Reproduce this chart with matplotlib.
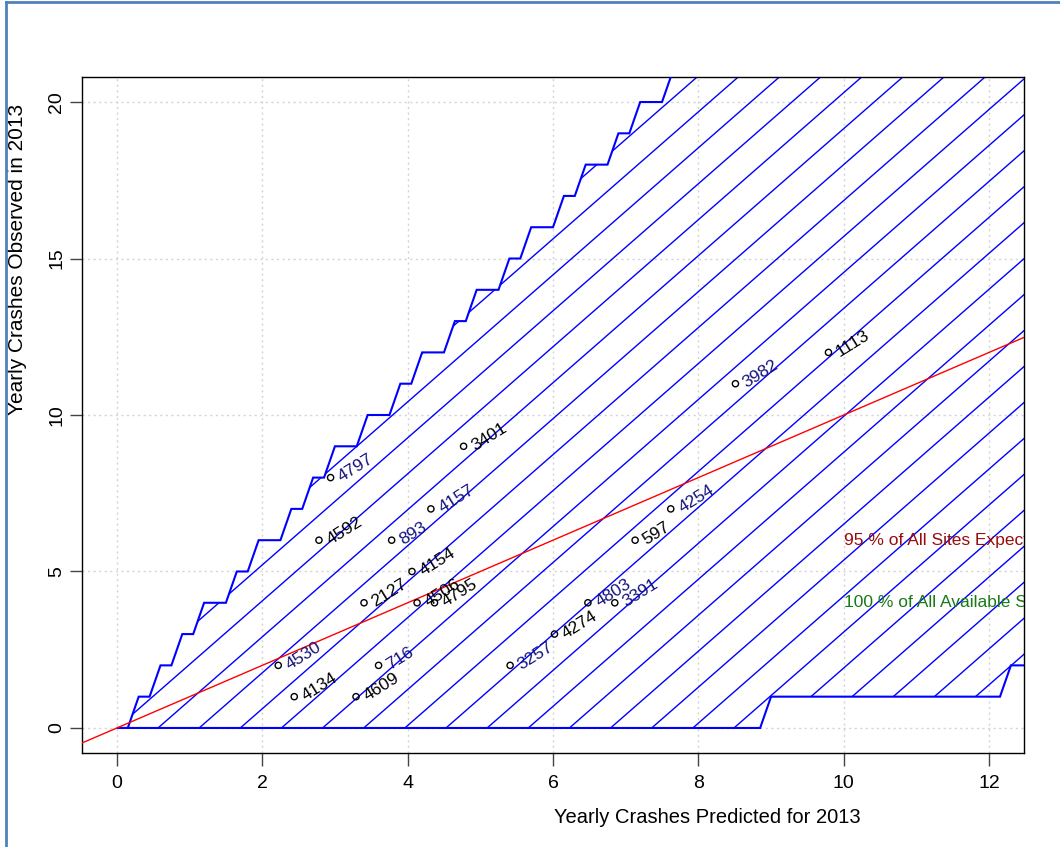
import matplotlib
matplotlib.use('Agg')
import matplotlib.pyplot as plt
from matplotlib.patches import Polygon
from matplotlib.collections import LineCollection
from matplotlib.lines import Line2D
import numpy as np

plt.rcParams['font.family'] = ['Liberation Sans', 'DejaVu Sans']

# sites: predicted vs observed crashes
site_ids = ['4797', '4592', '893', '4157', '3401', '4154', '2127', '4506', '4795',
            '4530', '4134', '716', '4609', '3257', '4274', '4803', '3391', '597',
            '4254', '3982', '1113']
predicted = [2.94, 2.78, 3.78, 4.32, 4.77, 4.06, 3.40, 4.13, 4.37,
             2.22, 2.44, 3.60, 3.29, 5.41, 6.02, 6.48, 6.85, 7.13,
             7.62, 8.51, 9.79]
observed = [8, 6, 6, 7, 9, 5, 4, 4, 4,
            2, 1, 2, 1, 2, 3, 4, 4, 6,
            7, 11, 12]
label_blue = [1, 0, 1, 1, 0, 0, 0, 0, 0,
              1, 0, 1, 0, 1, 0, 1, 1, 0,
              1, 1, 0]

# band (step 0.15 in predicted crashes)
band_step = 0.15
band_upper = [0, 0, 1, 1, 2, 2, 3, 3, 4, 4, 4, 5, 5, 6, 6, 6, 7, 7, 8, 8,
              9, 9, 9, 10, 10, 10, 11, 11, 12, 12, 12, 13, 13, 14, 14, 14,
              15, 15, 16, 16, 16, 17, 17, 18, 18, 18, 19, 19, 20, 20, 20, 21,
              21, 22, 22, 22, 23, 23, 24, 24, 24, 25, 25, 26, 26, 26, 27, 27,
              28, 28, 28, 29, 29, 30, 30, 30, 31, 31, 32, 32, 32, 33, 33, 34, 34]
band_lower = [0] * 60 + [1] * 22 + [2] * 3
band_x = np.arange(len(band_upper)) * band_step

fig = plt.figure(figsize=(10.6, 8.47), dpi=100)
ax = fig.add_axes([82/1060, 1-753/847, 942/1060, 676/847])
ax.set_xlim(-0.48, 12.48)
ax.set_ylim(-0.8, 20.8)
ax.set_xticks([0, 2, 4, 6, 8, 10, 12])
ax.set_yticks([0, 5, 10, 15, 20])
ax.grid(True, color='#d3d3d3', linestyle=(0, (1.5, 2.5)), lw=1)
ax.set_axisbelow(True)

verts = list(zip(band_x, band_upper)) + list(zip(band_x[::-1], band_lower[::-1]))
poly = Polygon(verts, closed=True, facecolor='none', edgecolor='#0000ff', lw=1.5, zorder=3)
ax.add_patch(poly)

# hatch lines clipped to the band
hatch_slope = 2.03
hatch_gap = 0.566
segs = []
for k in range(-45, 25):
    x0 = k * hatch_gap
    segs.append([(x0 - 1/hatch_slope, -1), (x0 + 40/hatch_slope, 40)])
lc = LineCollection(segs, colors='#0000ff', linewidths=1.0, zorder=2)
ax.add_collection(lc)
lc.set_clip_path(poly)

ax.axline((0, 0), slope=1, color='#ff0000', lw=1.0, zorder=4)

ax.scatter(predicted, observed, s=20, facecolors='none', edgecolors='black', lw=1, zorder=5)
for sid, px, py, b in zip(site_ids, predicted, observed, label_blue):
    ax.annotate(sid, (px, py), xytext=(6.5, -0.5), textcoords='offset points',
                rotation=32, rotation_mode='anchor', ha='left', va='center',
                fontsize=12.5, color='#14147d' if b else 'black', zorder=6)

ax.text(10, 6, '95 % of All Sites Expected', color='#980c0c', fontsize=12.5,
        va='center', ha='left', clip_on=True)
ax.text(10, 4, '100 % of All Available Sites', color='#177a17', fontsize=12.5,
        va='center', ha='left', clip_on=True)

for s in ax.spines.values():
    s.set_color('black')
    s.set_linewidth(1)
ax.tick_params(axis='both', length=9, width=1, color='#444444', labelsize=14)
ax.tick_params(axis='x', pad=7)
ax.tick_params(axis='y', pad=3)
for t in ax.get_yticklabels():
    t.set_rotation(90)
    t.set_va('center')

ax.set_xlabel('Yearly Crashes Predicted for 2013', fontsize=14.5)
ax.xaxis.set_label_coords((707-82)/942, (753-817)/676)
ax.xaxis.label.set_va('center')
ax.set_ylabel('Yearly Crashes Observed in 2013', fontsize=15)
ax.yaxis.set_label_coords((17.5-82)/942, (753-259)/676)
ax.yaxis.label.set_va('center')

# outer frame
fc = '#4f81bd'
fig.add_artist(Line2D([6/1060, 6/1060], [0, 1-2.5/847], transform=fig.transFigure, color=fc, lw=2))
fig.add_artist(Line2D([6/1060, 1], [1-2.5/847, 1-2.5/847], transform=fig.transFigure, color=fc, lw=2))

fig.savefig('out.png', dpi=100)
